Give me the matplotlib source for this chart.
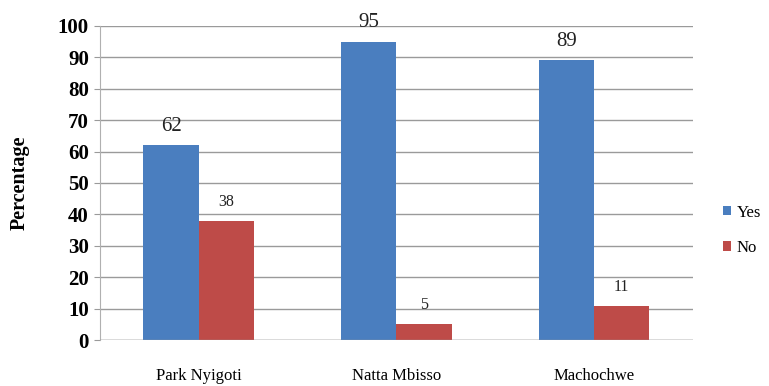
import matplotlib
matplotlib.use("Agg")
import matplotlib.pyplot as plt
import numpy as np

# Données
sites = ["Park Nyigoti", "Natta Mbisso", "Machochwe"]
oui = [62, 95, 89]
non = [38, 5, 11]

plt.rcParams['font.family'] = ['Liberation Serif', 'DejaVu Serif']

fig = plt.figure(figsize=(7.69, 3.86), dpi=100)
ax = fig.add_axes([0.130, 0.119, 0.771, 0.814])

x = np.arange(len(sites))
w = 0.28
b1 = ax.bar(x - w / 2, oui, w, color='#4A7EBF', label='Yes', zorder=3)
b2 = ax.bar(x + w / 2, non, w, color='#BE4B48', label='No', zorder=3)

# Étiquettes de valeurs
for r, v in zip(b1, oui):
    ax.text(r.get_x() + r.get_width() / 2, v + 3, str(v), ha='center', va='bottom',
            fontsize=15, color='#222222')
for r, v in zip(b2, non):
    ax.text(r.get_x() + r.get_width() / 2, v + 3.5, str(v), ha='center', va='bottom',
            fontsize=11.5, color='#222222')

ax.set_xlim(-0.5, 2.5)
ax.set_ylim(0, 100)
ax.set_yticks(range(0, 101, 10))
ax.set_xticks(x)
ax.set_xticklabels(sites, fontsize=12)
for t in ax.get_yticklabels():
    t.set_fontsize(15)
    t.set_fontweight('bold')
ax.set_ylabel("Percentage", fontsize=14.5, fontweight='bold', labelpad=20)

ax.yaxis.grid(True, color='#9a9a9a', linewidth=1, zorder=0)
for s in ['top', 'right', 'bottom']:
    ax.spines[s].set_visible(False)
ax.spines['left'].set_color('#b0b0b0')
ax.axhline(0, color='#9a9a9a', linewidth=1, zorder=4)
ax.tick_params(axis='y', length=4, color='#9a9a9a', pad=4)
ax.tick_params(axis='x', length=0, pad=20)

ax.legend(loc='center left', bbox_to_anchor=(1.025, 0.35), frameon=False,
          fontsize=12, handlelength=0.5, handleheight=0.5, handletextpad=0.35,
          labelspacing=1.15)

fig.savefig("out.png", dpi=100)
